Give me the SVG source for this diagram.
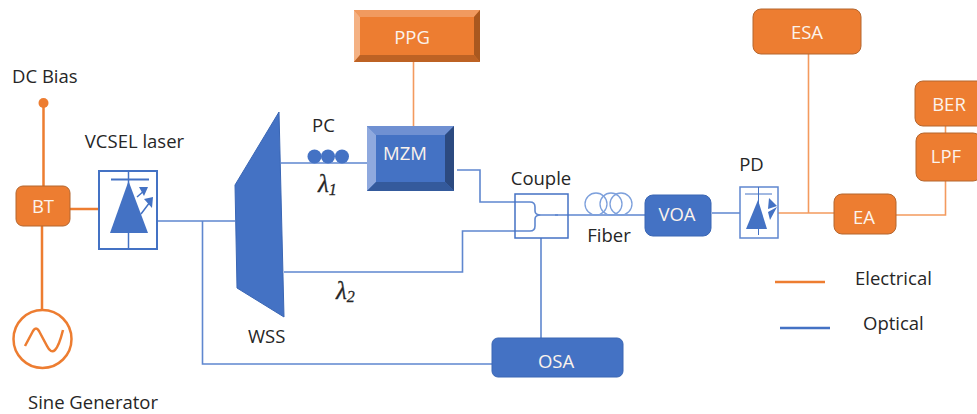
<svg xmlns="http://www.w3.org/2000/svg" width="977" height="414" viewBox="0 0 977 414">
<style>
text{font-family:"Open Sans","Noto Sans","Liberation Sans",sans-serif;font-size:18.500px;fill:#262626}
.w{fill:#fbf3ec;text-anchor:middle}
.c{text-anchor:middle}
.l{font-family:"Liberation Serif",serif;font-style:italic;font-size:25px;fill:#262626;stroke:#262626;stroke-width:.3}
.o{fill:#ed7d31;stroke:#b4662f;stroke-width:1}
.b{fill:#4472c4;stroke:#3a66b4;stroke-width:1}
.eL{fill:none;stroke:#ed7d31;stroke-width:2.500}
.eT{fill:none;stroke:#f39a5e;stroke-width:1.600}
.oL{fill:none;stroke:#5f87cf;stroke-width:1.600}
.box{fill:#fff;stroke:#4472c4;stroke-width:2}
</style>
<rect width="977" height="414" fill="#fff"/>
<g id="connectors">
<path class="eL" d="M43.500 103V186M42 226V310M70 209H99"/>
<path class="oL" d="M157 221H235M202.500 221V364H492M281 163H367M284 272H462.500V231H515M457 170H480V202H515M541 238V338M555 215H645M712 213H741"/>
<path class="eT" d="M413.500 62V126M778 213H834M808.500 54V213M896 215H945.500V181M945.500 126V133"/>
<path class="oL" d="M515 202H530Q535 202 535 207V211Q535 215 541 215H558M515 231H530Q535 231 535 226V219Q535 215 541 215"/>
</g>
<g id="dc-bias"><circle cx="43.500" cy="103" r="5" fill="#ed7d31"/><text x="12" y="83">DC Bias</text></g>
<g id="bt"><rect class="o" x="16" y="186" width="54" height="40" rx="7"/><text class="w" x="43" y="213">BT</text></g>
<g id="sine-generator"><circle cx="42.500" cy="339" r="29" fill="#fff" stroke="#ed7d31" stroke-width="2.500"/><path d="M25 346L33 331Q36 326 39 331L47 346Q51 354 55 350Q59 346 63 330" fill="none" stroke="#ed7d31" stroke-width="2.500"/><text x="28" y="409">Sine Generator</text></g>
<g id="vcsel"><rect class="box" x="99" y="171" width="58" height="78"/>
<path d="M128.500 171V249" stroke="#4472c4" stroke-width="1.500"/>
<path d="M111 179.500H149" stroke="#4472c4" stroke-width="2"/>
<path d="M128.500 181L148 233H110Z" fill="#4472c4"/>
<path d="M137 197L145 190M141 214L150 202" stroke="#4472c4" stroke-width="1.500"/>
<path d="M139 187L148 187L144 196ZM144 199L153 197L152 208Z" fill="#4472c4"/>
<text class="c" x="134.500" y="148">VCSEL laser</text></g>
<g id="wss"><path class="b" d="M279 112L235 185L237 288L284 317Z"/><text x="248" y="343">WSS</text></g>
<g id="pc"><circle cx="314.500" cy="156.500" r="7" fill="#4472c4"/><circle cx="328" cy="156.500" r="7" fill="#4472c4"/><circle cx="342" cy="156.500" r="7" fill="#4472c4"/><text x="312" y="132">PC</text></g>
<text class="l" x="318" y="192">λ<tspan font-size="16" dy="3">1</tspan></text>
<text class="l" x="336" y="299">λ<tspan font-size="16" dy="3">2</tspan></text>
<g id="ppg"><rect x="354" y="10" width="126" height="52" fill="#ed7d31"/><path d="M354 10H480L474 17H360Z" fill="#f19a5f"/><path d="M354 10L360 17V55L354 62Z" fill="#f4b183"/><path d="M480 10L474 17V55L480 62Z" fill="#a9581f"/><path d="M354 62L360 55H474L480 62Z" fill="#bd6224"/><text class="w" x="412" y="44">PPG</text></g>
<g id="mzm"><rect x="367" y="126" width="87" height="65" fill="#4472c4"/><path d="M367 126H454L445 135H376Z" fill="#6f90d2"/><path d="M367 126L376 135V182L367 191Z" fill="#8fa9de"/><path d="M454 126L445 135V182L454 191Z" fill="#2c4a80"/><path d="M367 191L376 182H445L454 191Z" fill="#345a9c"/><text class="w" x="405" y="160">MZM</text></g>
<g id="couple"><rect x="515" y="194" width="53" height="44" fill="none" stroke="#4472c4" stroke-width="1.500"/><text class="c" x="541" y="185">Couple</text></g>
<g id="fiber"><circle cx="596" cy="204" r="11" fill="none" stroke="#7da0dc" stroke-width="1.300"/><circle cx="611" cy="204" r="11" fill="none" stroke="#7da0dc" stroke-width="1.300"/><circle cx="621" cy="204" r="11" fill="none" stroke="#7da0dc" stroke-width="1.300"/><text class="c" x="609" y="242">Fiber</text></g>
<g id="voa"><rect class="b" x="645" y="195" width="66" height="41" rx="8"/><text class="w" x="677" y="221">VOA</text></g>
<g id="pd"><rect x="740" y="187" width="38" height="51" fill="#fff" stroke="#5f87cf" stroke-width="1.500"/>
<path d="M758.500 187V235" stroke="#4472c4"/>
<path d="M745 194H772" stroke="#4472c4"/>
<path d="M758 200L767 229H746Z" fill="#4472c4"/>
<path d="M769 198L777 206L768 209ZM768 212L777 207L770 220Z" fill="#4472c4"/>
<text class="c" x="751.500" y="171">PD</text></g>
<g id="esa"><rect class="o" x="753" y="9" width="108" height="45" rx="8"/><text class="w" x="807" y="39">ESA</text></g>
<g id="ea"><rect class="o" x="834" y="194" width="62" height="40" rx="8"/><text class="w" x="864" y="224">EA</text></g>
<g id="ber"><rect class="o" x="915" y="81" width="70" height="45" rx="8"/><text class="w" x="949" y="111">BER</text></g>
<g id="lpf"><rect class="o" x="916" y="133" width="65" height="48" rx="8"/><text class="w" x="946" y="163">LPF</text></g>
<g id="osa"><rect class="b" x="492" y="338" width="131" height="39" rx="6"/><text class="w" x="556" y="368">OSA</text></g>
<g id="legend"><path d="M775 282H825" stroke="#ed7d31" stroke-width="2.500"/><path d="M780 328H830" stroke="#4472c4" stroke-width="2.500"/><text x="855" y="285">Electrical</text><text x="863" y="330">Optical</text></g>
</svg>
